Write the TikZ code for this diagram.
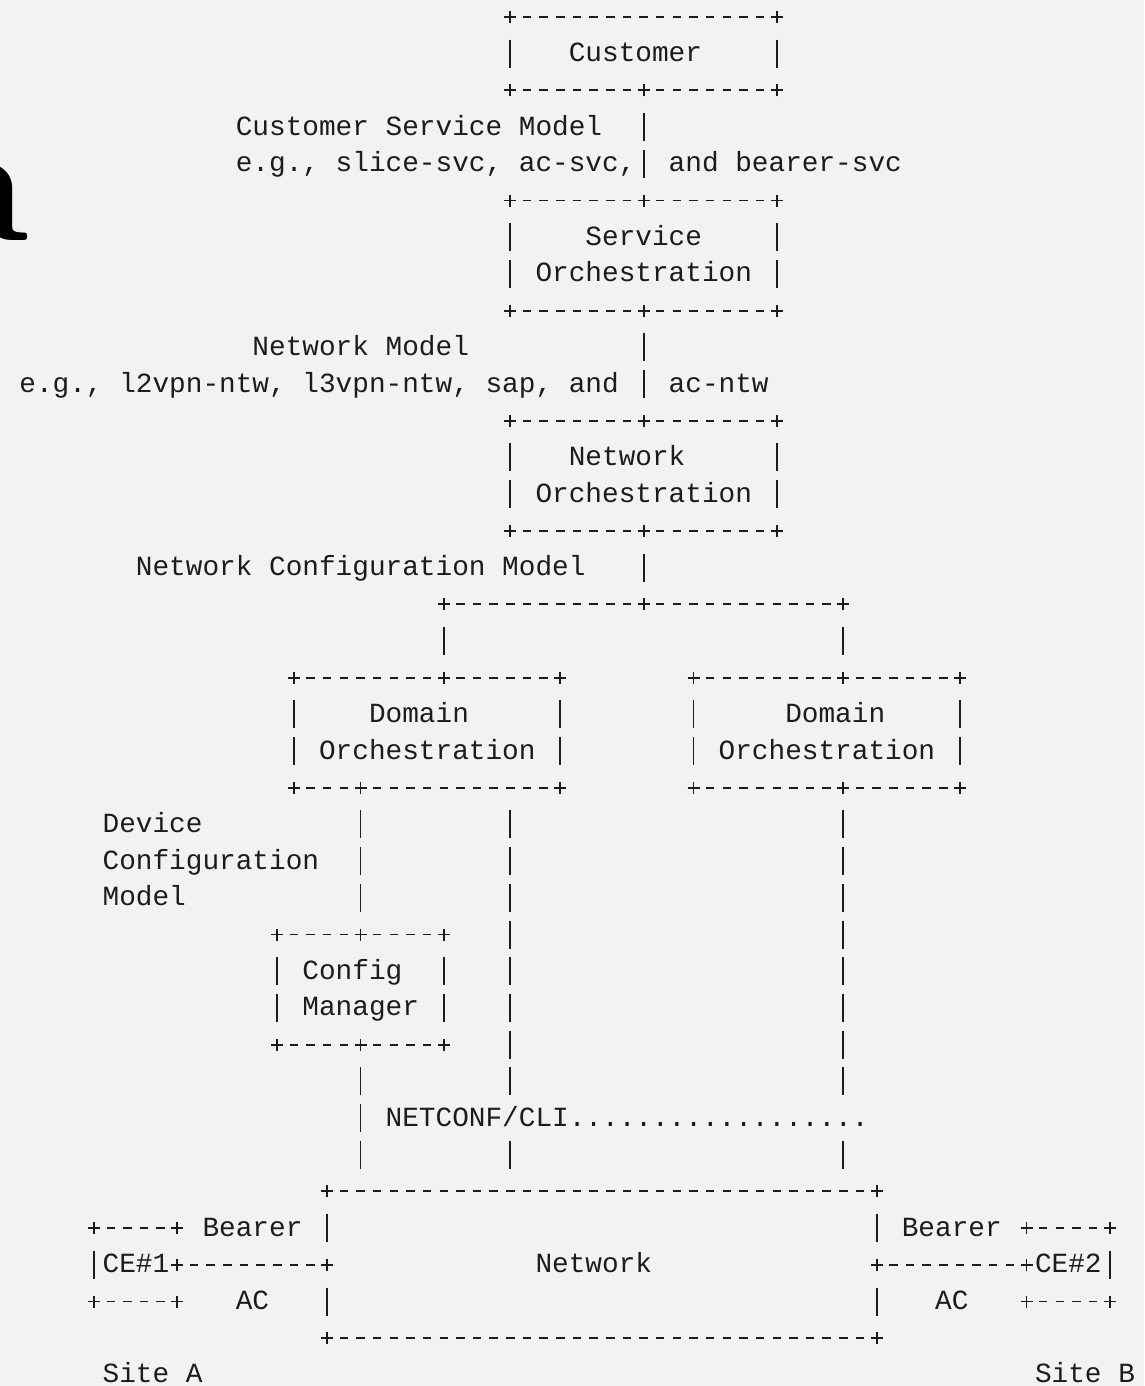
\documentclass[tikz,border=0pt]{standalone}
\usepackage{fontspec}
\usepackage{tikz}
\newfontfamily\mono{Liberation Mono}
\definecolor{ink}{RGB}{28,28,28}
\definecolor{paper}{RGB}{242,242,242}

\begin{document}
\begin{tikzpicture}[x=16.65pt,y=-36.7pt,shift={(27.5pt,-17pt)}]

      \tikzset{glyph/.style={draw=ink,line width=1.9pt},
        hline/.style={glyph,dash pattern=on 8.5pt off 8.15pt,shorten <=12.4pt,shorten >=12.4pt},
        vline/.style={glyph,dash pattern=on 28pt off 8.7pt,shorten <=22.7pt,shorten >=22.7pt},
        txt/.style={font=\fontsize{27.75pt}{36.7pt}\mono\frenchspacing,text=ink,inner sep=0pt,
          anchor=base west,xshift=-8.325pt,yshift=-8pt},
        frame/.style={rectangle,inner sep=0pt,outer sep=0pt},
        wcols/.style={minimum width=#1*16.65pt},
        hrows/.style={minimum height=#1*36.7pt},
        pics/plus/.style={code={\draw[glyph] (-6pt,0) -- (6pt,0) (0,-6pt) -- (0,6pt);}}}

      \fill[paper] (-27.5pt,17pt) rectangle (1116.5pt,-1369pt);
      \useasboundingbox (-27.5pt,17pt) rectangle (1116.5pt,-1369pt);
      \node[anchor=base east,inner sep=0pt,font=\fontsize{174pt}{174pt}\selectfont\bfseries] (cropa) at (0.1,6.08) {a};

      % boxes
      \node[frame,wcols=16,hrows=2] (customer) at (37,1) {};
      \node[frame,wcols=16,hrows=3] (svcorch) at (37,6.5) {};
      \node[frame,wcols=16,hrows=3] (ntworch) at (37,12.5) {};
      \node[frame,wcols=16,hrows=3] (domL) at (24,19.5) {};
      \node[frame,wcols=16,hrows=3] (domR) at (48,19.5) {};
      \node[frame,wcols=10,hrows=3] (cfgmgr) at (20,26.5) {};
      \node[frame,wcols=33,hrows=4] (network) at (34.5,34) {};
      \node[frame,wcols=5,hrows=2] (ceA) at (6.5,34) {};
      \node[frame,wcols=5,hrows=2] (ceB) at (62.5,34) {};

      \coordinate (split) at (37,16);
      \coordinate (splitL) at (25,16);
      \coordinate (splitR) at (49,16);
      \coordinate (cliL) at (29,30);
      \coordinate (cliR) at (49,30);

      % texts
      \node[txt] (customer-l) at (33,1) {Customer};
      \node[txt] (csm-l1) at (13,3) {Customer Service Model};
      \node[txt] (csm-l2) at (13,4) {e.g., slice-svc, ac-svc,};
      \node[txt] (csm-l3) at (39,4) {and bearer-svc};
      \node[txt] (svcorch-l1) at (34,6) {Service};
      \node[txt] (svcorch-l2) at (31,7) {Orchestration};
      \node[txt] (nm-l1) at (14,9) {Network Model};
      \node[txt] (nm-l2) at (0,10) {e.g., l2vpn-ntw, l3vpn-ntw, sap, and};
      \node[txt] (nm-l3) at (39,10) {ac-ntw};
      \node[txt] (ntworch-l1) at (33,12) {Network};
      \node[txt] (ntworch-l2) at (31,13) {Orchestration};
      \node[txt] (ncm-l) at (7,15) {Network Configuration Model};
      \node[txt] (domL-l1) at (21,19) {Domain};
      \node[txt] (domL-l2) at (18,20) {Orchestration};
      \node[txt] (domR-l1) at (46,19) {Domain};
      \node[txt] (domR-l2) at (42,20) {Orchestration};
      \node[txt] (dcm-l1) at (5,22) {Device};
      \node[txt] (dcm-l2) at (5,23) {Configuration};
      \node[txt] (dcm-l3) at (5,24) {Model};
      \node[txt] (cfgmgr-l1) at (17,26) {Config};
      \node[txt] (cfgmgr-l2) at (17,27) {Manager};
      \node[txt] (cli-l) at (22,30) {NETCONF/CLI..................};
      \node[txt] (bearerA) at (11,33) {Bearer};
      \node[txt] (bearerB) at (53,33) {Bearer};
      \node[txt] (ceA-l) at (5,34) {CE\#1};
      \node[txt] (ceB-l) at (61,34) {CE\#2};
      \node[txt] (network-l) at (31,34) {Network};
      \node[txt] (acA) at (13,35) {AC};
      \node[txt] (acB) at (55,35) {AC};
      \node[txt] (siteA) at (5,37) {Site A};
      \node[txt] (siteB) at (61,37) {Site B};

      % frames
      \foreach \b in {customer,svcorch,ntworch,domL,domR,cfgmgr}{
        \draw[hline] (\b.north west) -- (\b.north east);
        \draw[hline] (\b.south west) -- (\b.south east);
        \draw[vline] (\b.north west) -- (\b.south west);
        \draw[vline] (\b.north east) -- (\b.south east);
        \foreach \a in {north west,north east,south west,south east}
          \pic at (\b.\a) {plus};
      }
      \foreach \b in {network,ceA,ceB}{
        \draw[hline] (\b.north west) -- (\b.north east);
        \draw[hline] (\b.south west) -- (\b.south east);
        \foreach \a in {north west,north east,south west,south east}
          \pic at (\b.\a) {plus};
      }
      \draw[vline] (network.north west) -- (network.west);
      \draw[vline] (network.west) -- (network.south west);
      \draw[vline] (network.north east) -- (network.east);
      \draw[vline] (network.east) -- (network.south east);
      \draw[vline] (ceA.north west) -- (ceA.south west);
      \draw[vline] (ceB.north east) -- (ceB.south east);

      % connectors
      \draw[vline] (customer.south) -- (svcorch.north);
      \draw[vline] (svcorch.south) -- (ntworch.north);
      \draw[vline] (ntworch.south) -- (split);
      \draw[hline] (splitL) -- (splitR);
      \draw[vline] (splitL) -- (splitL |- domL.north);
      \draw[vline] (splitR) -- (splitR |- domR.north);
      \draw[vline] (cfgmgr.north |- domL.south) -- (cfgmgr.north);
      \draw[vline] (cfgmgr.south) -- (cfgmgr.south |- network.north);
      \draw[vline] (cliL |- domL.south) -- (cliL);
      \draw[vline] (cliL) -- (cliL |- network.north);
      \draw[vline] (splitR |- domR.south) -- (cliR);
      \draw[vline] (cliR) -- (cliR |- network.north);
      \draw[hline] (ceA.east) -- (network.west);
      \draw[hline] (network.east) -- (ceB.west);

      \foreach \p in {customer.south,svcorch.north,svcorch.south,ntworch.north,ntworch.south,
          split,splitL,splitR,network.west,network.east,ceA.east,ceB.west,
          cfgmgr.north,cfgmgr.south}
        \pic at (\p) {plus};
      \pic at (splitL |- domL.north) {plus};
      \pic at (splitR |- domR.north) {plus};
      \pic at (splitR |- domR.south) {plus};
      \pic at (cfgmgr.north |- domL.south) {plus};
\end{tikzpicture}
\end{document}
